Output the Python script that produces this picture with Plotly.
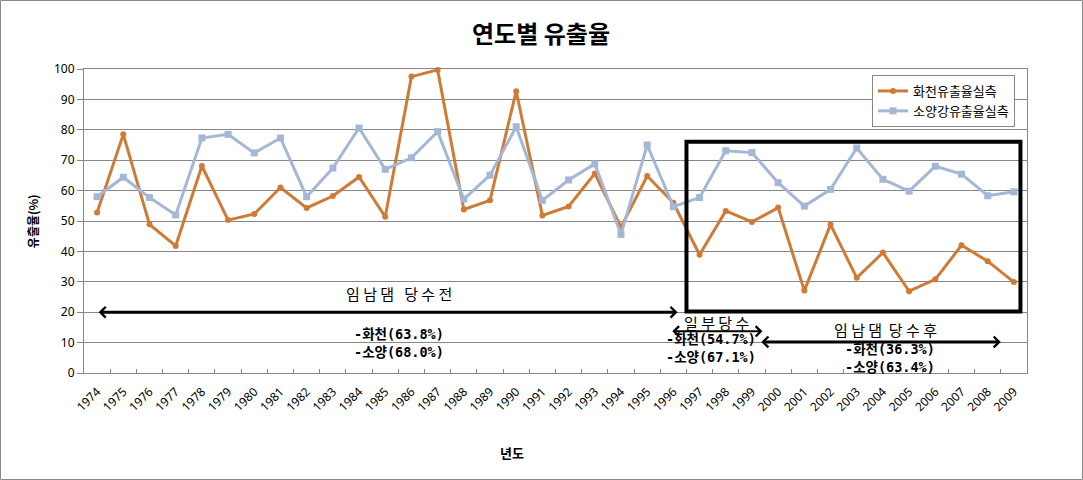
import plotly.graph_objects as go

years = ["1974", "1975", "1976", "1977", "1978", "1979", "1980", "1981", "1982",
         "1983", "1984", "1985", "1986", "1987", "1988", "1989", "1990", "1991",
         "1992", "1993", "1994", "1995", "1996", "1997", "1998", "1999", "2000",
         "2001", "2002", "2003", "2004", "2005", "2006", "2007", "2008", "2009"]

hwacheon = [52.8, 78.5, 48.9, 41.8, 68.1, 50.3, 52.3, 61.0, 54.3, 58.2, 64.5, 51.4,
            97.5, 99.7, 53.8, 56.8, 92.7, 51.8, 54.8, 65.6, 48.0, 64.8, 56.0,
            38.9, 53.3, 49.7, 54.4, 27.1, 48.8, 31.3, 39.6, 26.9, 30.8, 42.0, 36.8, 29.9]

soyang = [58.0, 64.4, 57.7, 52.0, 77.3, 78.5, 72.4, 77.3, 58.0, 67.4, 80.6, 67.0,
          70.8, 79.4, 57.2, 65.1, 81.0, 56.8, 63.5, 68.8, 45.6, 75.0, 54.7,
          57.7, 73.1, 72.5, 62.6, 54.9, 60.4, 74.0, 63.7, 59.8, 68.0, 65.4, 58.3, 59.6]

series_names = ["화천유출율실측", "소양강유출율실측"]

ORANGE = "#CF7A35"
BLUE = "#A4B7D7"
GRID = "#878787"
KFONT = "Noto Sans CJK KR"
MONO = "DejaVu Sans Mono, Noto Sans CJK KR"

fig = go.Figure()
fig.add_trace(go.Scatter(x=years, y=hwacheon, name=series_names[0], mode="lines+markers",
                         line=dict(color=ORANGE, width=3),
                         marker=dict(symbol="circle", size=6, color=ORANGE),
                         cliponaxis=False))
fig.add_trace(go.Scatter(x=years, y=soyang, name=series_names[1], mode="lines+markers",
                         line=dict(color=BLUE, width=3),
                         marker=dict(symbol="square", size=7, color=BLUE),
                         cliponaxis=False))

annotations = []

def arrow(x0, x1, y, w, size):
    annotations.append(dict(x=x1, y=y, ax=x0, ay=y, xref="x", yref="y", axref="x", ayref="y",
                            text="", showarrow=True, arrowhead=4, startarrowhead=4,
                            arrowside="end+start",
                            arrowwidth=w, arrowsize=size, startarrowsize=size,
                            arrowcolor="black", standoff=0, startstandoff=0))

arrow(0, 22.16, 20, 3, 0.7)
arrow(21.9, 25.4, 13.7, 2, 1.0)
arrow(25.3, 34.5, 10.2, 3, 0.7)

def label(x, y, text, family, size=15):
    annotations.append(dict(x=x, y=y, xref="x", yref="y", text=text, showarrow=False,
                            font=dict(family=family, size=size, color="black"),
                            xanchor="center", yanchor="middle", borderpad=0))

label(11.52, 26.0, "임 남 댐   당 수 전", KFONT)
label(11.52, 10.0, "<b>-화천(63.8%)<br>-소양(68.0%)</b>", MONO, 13.5)
label(23.65, 16.7, "일 부 당 수", KFONT)
label(23.43, 8.2, "<b>-화천(54.7%)<br>-소양(67.1%)</b>", MONO, 13.5)
label(30.08, 14.4, "임 남 댐  당 수 후", KFONT)
label(30.26, 4.9, "<b>-화천(36.3%)<br>-소양(63.4%)</b>", MONO, 13.5)

# axis titles
annotations.append(dict(x=-0.055, y=0.5, xref="paper", yref="paper", text="<b>유출율(%)</b>",
                        textangle=-90, showarrow=False, xanchor="center", yanchor="middle",
                        font=dict(family=KFONT, size=12, color="black")))
annotations.append(dict(x=(512 - 84) / 943, y=(373 - 452) / 304, xref="paper", yref="paper",
                        text="<b>년도</b>", showarrow=False, xanchor="center", yanchor="middle",
                        font=dict(family=KFONT, size=13, color="black")))

shapes = [
    dict(type="rect", xref="x", yref="y", x0=22.5, x1=35.25, y0=20.2, y1=76.1,
         line=dict(color="black", width=4), fillcolor="rgba(0,0,0,0)", layer="above"),
    dict(type="rect", xref="paper", yref="paper",
         x0=(0.5 - 84) / 943, x1=(1082.5 - 84) / 943,
         y0=(373 - 479.5) / 304, y1=(373 - 0.5) / 304,
         line=dict(color="#8a8a8a", width=1), fillcolor="rgba(0,0,0,0)"),
]

fig.update_layout(
    width=1083, height=480,
    margin=dict(l=84, r=56, t=69, b=107),
    paper_bgcolor="white", plot_bgcolor="white",
    title=dict(text="<b>연도별 유출율</b>", x=541 / 1083, xanchor="center",
               y=1 - 35 / 480, yanchor="middle",
               font=dict(family=KFONT, size=24, color="black")),
    font=dict(family="Noto Sans", size=12, color="black"),
    showlegend=True,
    legend=dict(x=(872 - 84) / 943, y=(373 - 75) / 304, xanchor="left", yanchor="top",
                bordercolor=GRID, borderwidth=1, bgcolor="white",
                font=dict(family=KFONT, size=13, color="black"),
                itemwidth=30, tracegroupgap=0),
    xaxis=dict(type="category", tickangle=-45, showgrid=False,
               showline=True, linecolor=GRID, linewidth=1, mirror=True,
               ticks="inside", ticklen=4, tickcolor=GRID, tickson="boundaries",
               ticklabelstandoff=6,
               tickfont=dict(family="Noto Sans", size=12), range=[-0.5, 35.5]),
    yaxis=dict(range=[0, 100], dtick=10, showgrid=True, gridcolor=GRID, gridwidth=1,
               showline=True, linecolor=GRID, linewidth=1, mirror=True,
               ticks="outside", ticklen=6, tickcolor=GRID, zeroline=False,
               tickfont=dict(family="Noto Sans", size=12)),
    annotations=annotations,
    shapes=shapes,
)

fig.write_html("out.html")
